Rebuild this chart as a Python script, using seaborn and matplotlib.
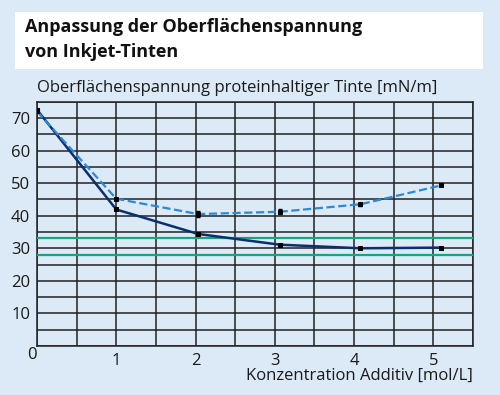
import pandas as pd
import matplotlib.pyplot as plt
import matplotlib.patches as mpatches
import seaborn as sns

# Values
konz_dunkel = [0.0, 1.0, 2.03, 3.06, 4.08, 5.1]
spannung_dunkel = [72.5, 41.9, 34.4, 31.1, 30.0, 30.2]
konz_hell = [0.0, 1.0, 2.03, 3.06, 4.08, 5.1]
spannung_hell = [72.0, 45.2, 40.5, 41.2, 43.5, 49.3]
fehler_hell = [0.0, 0.0, 0.8, 0.8, 0.5, 0.0]
grenzen = [33, 28]
x_ticks = [1, 2, 3, 4, 5]
y_ticks = [10, 20, 30, 40, 50, 60, 70]

bg = '#dce9f6'
navy = '#0b2f6e'
hellblau = '#2b8ad6'
gruen = '#1aa37f'

sns.set_style('white')
plt.rcParams['font.family'] = ['Open Sans', 'DejaVu Sans']

fig = plt.figure(figsize=(5, 3.95), dpi=100, facecolor=bg)
ax = fig.add_axes([0.074, 0.124, 0.872, 0.6187], facecolor=bg)

# white title box
fig.patches.append(mpatches.Rectangle((15 / 500, 1 - 69 / 395), 468 / 500, 57 / 395,
                                      transform=fig.transFigure, facecolor='white',
                                      edgecolor='none', zorder=0))
fig.text(25 / 500, 1 - 32 / 395, 'Anpassung der Oberflächenspannung',
         fontsize=13, fontweight='bold', color='#111111', va='baseline')
fig.text(25 / 500, 1 - 57 / 395, 'von Inkjet-Tinten',
         fontsize=13, fontweight='bold', color='#111111', va='baseline')
fig.text(37 / 500, 1 - 92 / 395, 'Oberflächenspannung proteinhaltiger Tinte [mN/m]',
         fontsize=12, color='#1a1a1a', va='baseline')

df_d = pd.DataFrame({'x': konz_dunkel, 'y': spannung_dunkel})
df_h = pd.DataFrame({'x': konz_hell, 'y': spannung_hell})

for g in grenzen:
    ax.axhline(g, color=gruen, lw=1.6, zorder=3)

sns.lineplot(data=df_d, x='x', y='y', ax=ax, color=navy, lw=1.8, marker='s',
             markersize=3, markerfacecolor='black', markeredgecolor='black', zorder=4)
sns.lineplot(data=df_h, x='x', y='y', ax=ax, color=hellblau, lw=1.6, linestyle='--',
             dashes=(2.5, 0.8), marker='s', markersize=2.5, markerfacecolor='black',
             markeredgecolor='black', zorder=5)
ax.errorbar(konz_hell, spannung_hell, yerr=fehler_hell, fmt='none', ecolor='black',
            elinewidth=1, capsize=1.5, zorder=6)

ax.set_xlim(0, 5.5)
ax.set_ylim(0, 75)
ax.set_xticks([i * 0.5 for i in range(12)])
ax.set_yticks([i * 5 for i in range(16)])
ax.grid(True, color='#222222', lw=1.1, zorder=1)
ax.set_axisbelow(True)
ax.tick_params(length=0, labelsize=12, colors='#1a1a1a', pad=5)

ax.set_xticklabels([str(int(t)) if t in x_ticks else '' for t in ax.get_xticks()])
ax.set_yticklabels([str(int(t)) if t in y_ticks else '' for t in ax.get_yticks()])
ax.set_xlabel('')
ax.set_ylabel('')
# origin label, set slightly left of the axis corner
fig.text(32 / 500, 1 - 355 / 395, '0', fontsize=12, color='#1a1a1a', ha='center', va='center')
fig.text(473 / 500, 1 - 380 / 395, 'Konzentration Additiv [mol/L]', fontsize=12,
         color='#1a1a1a', ha='right', va='baseline')

for s in ax.spines.values():
    s.set_color('#222222')
    s.set_linewidth(1.1)

fig.savefig('out.png', dpi=100, facecolor=bg)
